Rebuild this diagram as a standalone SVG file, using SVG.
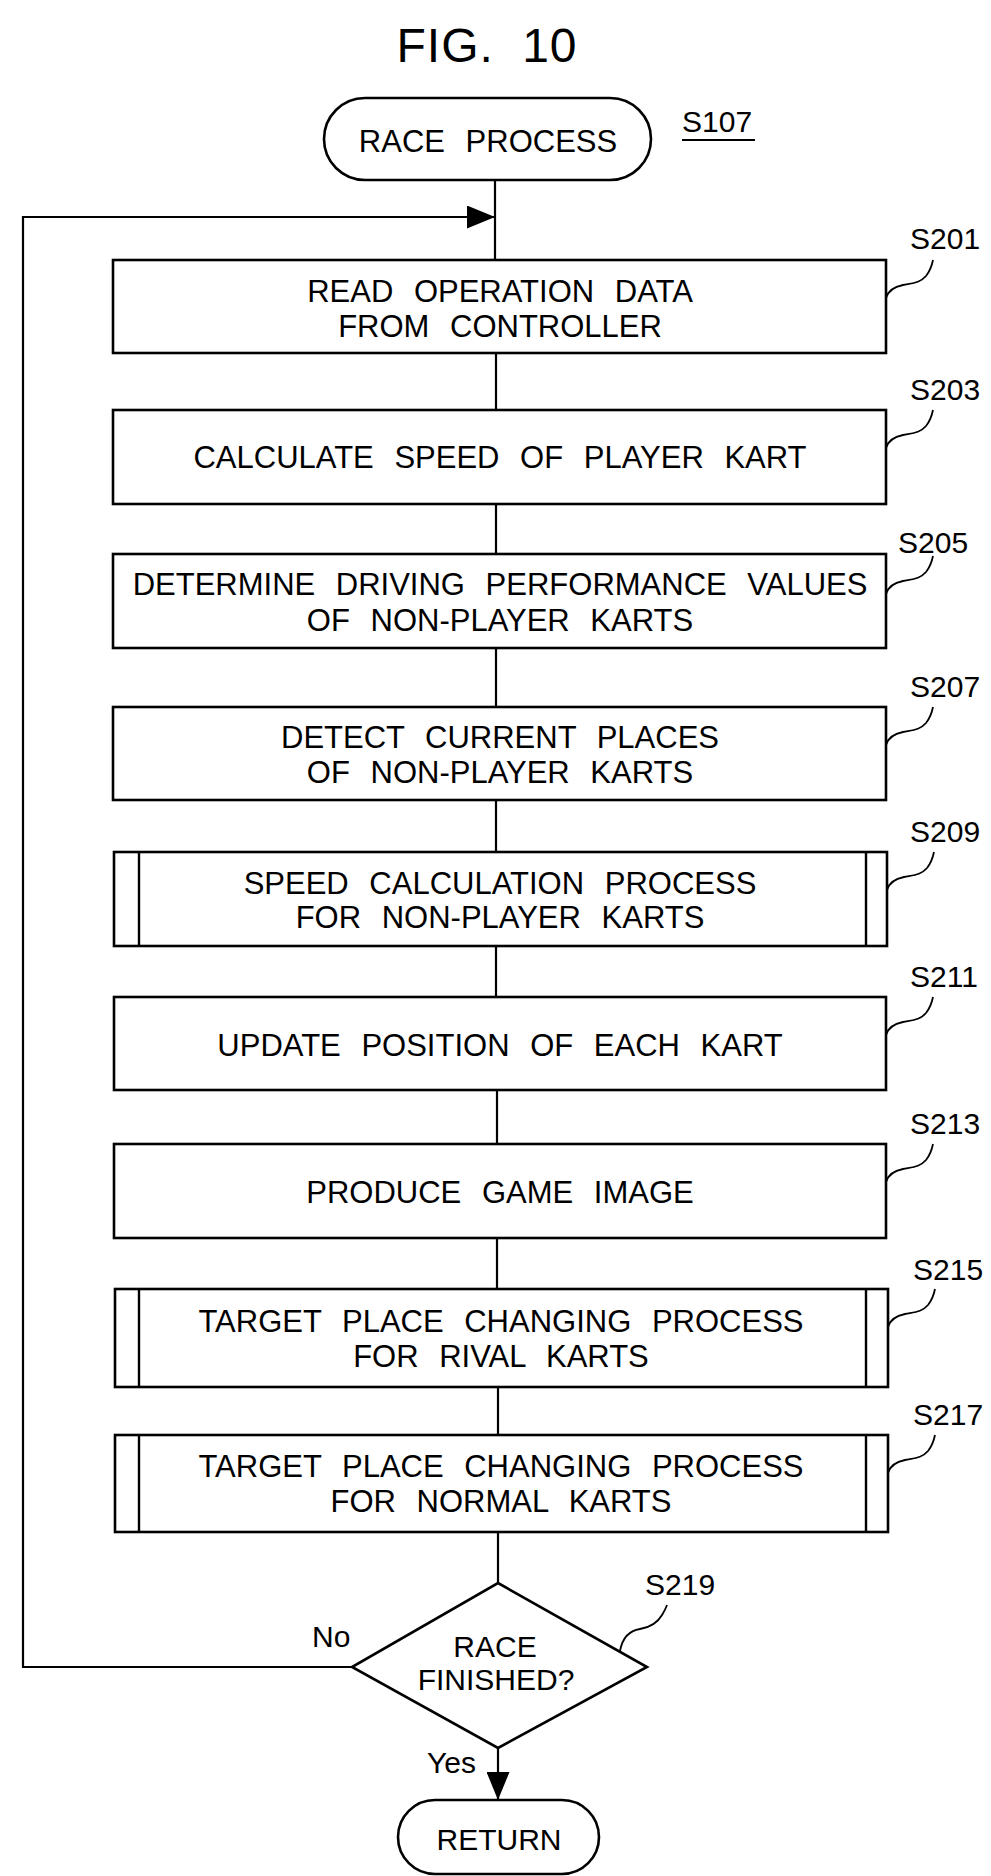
<svg xmlns="http://www.w3.org/2000/svg" xmlns:xlink="http://www.w3.org/1999/xlink" width="991" height="1876" viewBox="0 0 991 1876">
<style>
  .box { fill: #fff; stroke: #000; stroke-width: 2.6; }
  .bar { stroke: #000; stroke-width: 2.4; fill: none; }
  .ln { stroke: #000; stroke-width: 2.2; fill: none; }
  .sq { stroke: #000; stroke-width: 1.8; fill: none; }
  .t { font-family: "Liberation Sans", Arial, sans-serif; font-size: 31px; fill: #000; text-anchor: middle; word-spacing: 12px; }
  .s { font-family: "Liberation Sans", Arial, sans-serif; font-size: 30px; fill: #000; }
  .c { font-family: "Liberation Sans", Arial, sans-serif; font-size: 30px; fill: #000; text-anchor: middle; }
</style>
<defs>
  <marker id="ah" viewBox="0 0 28 23" refX="28" refY="11.5" markerWidth="28" markerHeight="23" markerUnits="userSpaceOnUse" orient="auto">
    <path d="M0,0 L28,11.5 L0,23 z" fill="#000"/>
  </marker>
  <path id="sq" d="M886,38 C888,31 893,27 903,25 C913,23 920,23 926,16 C930,11 932,5 933,0"/>
</defs>
<rect width="991" height="1876" fill="#fff"/>

<text x="487" y="62" style="font-family:'Liberation Sans',Arial,sans-serif;font-size:48px;text-anchor:middle;word-spacing:14px;letter-spacing:1px">FIG. 10</text>

<g id="connectors">
  <line class="ln" x1="495" y1="180" x2="495" y2="260"/>
  <path class="ln" d="M352,1667 H23 V217 H495" marker-end="url(#ah)"/>
  <line class="ln" x1="496" y1="353" x2="496" y2="410"/>
  <line class="ln" x1="496" y1="503" x2="496" y2="554"/>
  <line class="ln" x1="496" y1="648" x2="496" y2="707"/>
  <line class="ln" x1="496" y1="800" x2="496" y2="852"/>
  <line class="ln" x1="496" y1="946" x2="496" y2="997"/>
  <line class="ln" x1="497" y1="1090" x2="497" y2="1144"/>
  <line class="ln" x1="497" y1="1238" x2="497" y2="1289"/>
  <line class="ln" x1="498" y1="1387" x2="498" y2="1435"/>
  <line class="ln" x1="498" y1="1532" x2="498" y2="1583"/>
  <line class="ln" x1="498" y1="1748" x2="498" y2="1800" marker-end="url(#ah)"/>
  <text class="s" x="312" y="1647">No</text>
  <text class="s" x="427" y="1773">Yes</text>
</g>

<g id="start">
  <rect class="box" x="324" y="98" width="327" height="82" rx="41" ry="41"/>
  <text class="t" x="488" y="152">RACE PROCESS</text>
  <text class="s" x="682" y="132">S107</text>
  <line x1="682" y1="140" x2="755" y2="140" stroke="#000" stroke-width="2"/>
</g>

<g id="S201">
  <rect class="box" x="113" y="260" width="773" height="93"/>
  <text class="t" x="500" y="302">READ OPERATION DATA</text>
  <text class="t" x="500" y="337">FROM CONTROLLER</text>
  <use href="#sq" xlink:href="#sq" class="sq" x="0" y="260"/>
  <text class="s" x="910" y="249">S201</text>
</g>

<g id="S203">
  <rect class="box" x="113" y="410" width="773" height="94"/>
  <text class="t" x="500" y="468">CALCULATE SPEED OF PLAYER KART</text>
  <use href="#sq" xlink:href="#sq" class="sq" x="0" y="410"/>
  <text class="s" x="910" y="400">S203</text>
</g>

<g id="S205">
  <rect class="box" x="113" y="554" width="773" height="94"/>
  <text class="t" x="500" y="595">DETERMINE DRIVING PERFORMANCE VALUES</text>
  <text class="t" x="500" y="631">OF NON-PLAYER KARTS</text>
  <use href="#sq" xlink:href="#sq" class="sq" x="0" y="556"/>
  <text class="s" x="898" y="553">S205</text>
</g>

<g id="S207">
  <rect class="box" x="113" y="707" width="773" height="93"/>
  <text class="t" x="500" y="748">DETECT CURRENT PLACES</text>
  <text class="t" x="500" y="783">OF NON-PLAYER KARTS</text>
  <use href="#sq" xlink:href="#sq" class="sq" x="0" y="707"/>
  <text class="s" x="910" y="697">S207</text>
</g>

<g id="S209">
  <rect class="box" x="114" y="852" width="773" height="94"/>
  <line class="bar" x1="139" y1="852" x2="139" y2="946"/>
  <line class="bar" x1="866" y1="852" x2="866" y2="946"/>
  <text class="t" x="500" y="894">SPEED CALCULATION PROCESS</text>
  <text class="t" x="500" y="928">FOR NON-PLAYER KARTS</text>
  <use href="#sq" xlink:href="#sq" class="sq" x="1" y="852"/>
  <text class="s" x="910" y="842">S209</text>
</g>

<g id="S211">
  <rect class="box" x="114" y="997" width="772" height="93"/>
  <text class="t" x="500" y="1056">UPDATE POSITION OF EACH KART</text>
  <use href="#sq" xlink:href="#sq" class="sq" x="0" y="997"/>
  <text class="s" x="910" y="987">S211</text>
</g>

<g id="S213">
  <rect class="box" x="114" y="1144" width="772" height="94"/>
  <text class="t" x="500" y="1203">PRODUCE GAME IMAGE</text>
  <use href="#sq" xlink:href="#sq" class="sq" x="0" y="1144"/>
  <text class="s" x="910" y="1134">S213</text>
</g>

<g id="S215">
  <rect class="box" x="115" y="1289" width="773" height="98"/>
  <line class="bar" x1="139" y1="1289" x2="139" y2="1387"/>
  <line class="bar" x1="866" y1="1289" x2="866" y2="1387"/>
  <text class="t" x="501" y="1332">TARGET PLACE CHANGING PROCESS</text>
  <text class="t" x="501" y="1367">FOR RIVAL KARTS</text>
  <use href="#sq" xlink:href="#sq" class="sq" x="2" y="1289"/>
  <text class="s" x="913" y="1280">S215</text>
</g>

<g id="S217">
  <rect class="box" x="115" y="1435" width="773" height="97"/>
  <line class="bar" x1="139" y1="1435" x2="139" y2="1532"/>
  <line class="bar" x1="866" y1="1435" x2="866" y2="1532"/>
  <text class="t" x="501" y="1477">TARGET PLACE CHANGING PROCESS</text>
  <text class="t" x="501" y="1512">FOR NORMAL KARTS</text>
  <use href="#sq" xlink:href="#sq" class="sq" x="2" y="1435"/>
  <text class="s" x="913" y="1425">S217</text>
</g>

<g id="S219">
  <polygon class="box" points="498,1583 647,1667 498,1748 352,1667"/>
  <text class="c" x="495" y="1657">RACE</text>
  <text class="c" x="496" y="1690">FINISHED?</text>
  <path class="sq" d="M620,1651 C622,1640 627,1631 640,1629 C652,1627 658,1622 662,1615 C665,1610 666,1608 667,1605"/>
  <text class="s" x="645" y="1595">S219</text>
</g>

<g id="return">
  <rect class="box" x="398" y="1800" width="201" height="74" rx="37" ry="37"/>
  <text class="c" x="499" y="1850">RETURN</text>
</g>
</svg>
